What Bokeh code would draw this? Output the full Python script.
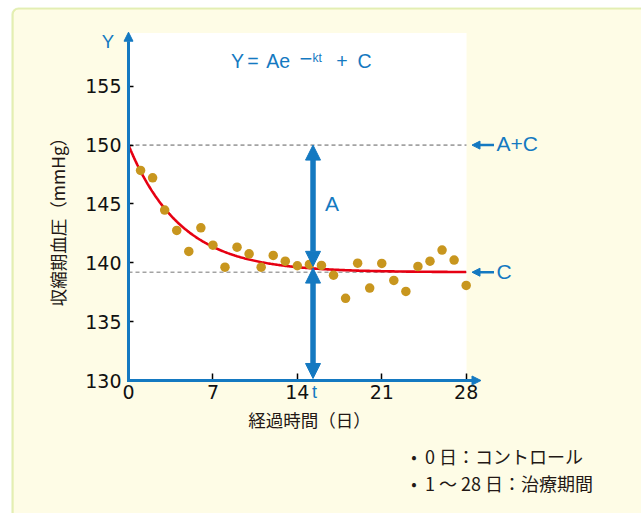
import math
import numpy as np
from bokeh.plotting import figure
from bokeh.models import Arrow, NormalHead, Label, BoxAnnotation, FixedTicker, Range1d
from bokeh.embed import file_html
from bokeh.resources import INLINE

# Systolic blood pressure per day (day 0 = control, days 1-28 = treatment)
days = list(range(1, 29))
sbp = [147.85, 147.22, 144.48, 142.75, 140.97, 142.97, 141.50, 139.63, 141.33, 140.76,
       139.63, 140.63, 140.14, 139.75, 139.86, 139.78, 138.95, 136.98, 139.97, 137.85,
       139.95, 138.50, 137.57, 139.69, 140.14, 141.08, 140.23, 138.08]

# Fitted model Y = A e^(-kt) + C
A_amp = 10.8
C_base = 139.2
k_rate = 0.23
t_mark = 15.3

x_ticks = [0, 7, 14, 21, 28]
y_ticks = [130, 135, 140, 145, 150, 155]

x_axis_label = "経過時間（日）"
y_axis_label = "収縮期血圧（mmHg）"
note_lines = ["0 日：コントロール", "1 ～ 28 日：治療期間"]

BLUE = "#1479c1"
RED = "#e60012"
DOT = "#c8961e"
PANEL = "#fefce6"
EDGE = "#a6cc22"
INK = "#231815"
CJK = "Noto Sans CJK JP"
LAT = "Liberation Sans"
NUM = "DejaVu Sans"

# canvas geometry: origin (day 0, 130 mmHg) sits at pixel (128, 380)
W, H = 641, 513
OX, OY = 128, 380
sx = 12.06   # px per day
sy = 11.77   # px per mmHg
X0, X1 = -OX / sx, (W - OX) / sx
Y0, Y1 = 130 - (H - OY) / sy, 130 + OY / sy


def dx(px):
    return (px - OX) / sx


def dy(py):
    return 130 + (OY - py) / sy


p = figure(width=W, height=H, output_backend="svg", toolbar_location=None,
           x_range=Range1d(X0, X1), y_range=Range1d(Y0, Y1),
           min_border=0, min_border_left=0, min_border_right=0,
           min_border_top=0, min_border_bottom=0)
p.background_fill_color = "white"
p.border_fill_color = "white"
p.outline_line_color = None
p.xgrid.visible = False
p.ygrid.visible = False

# panel with rounded green edge
p.add_layout(BoxAnnotation(left=dx(12), right=dx(720), top=dy(8), bottom=dy(620),
                           fill_color=PANEL, fill_alpha=1, line_color=EDGE, line_width=2.2,
                           border_radius=6, level="underlay"))
# white plotting area
p.add_layout(BoxAnnotation(left=0, right=dx(466), bottom=130, top=dy(32.5),
                           fill_color="white", fill_alpha=1, line_color=None,
                           level="underlay"))

# axes pinned to the origin; their lines are drawn as arrows below
for ax, loc in ((p.xaxis[0], 130), (p.yaxis[0], 0)):
    ax.fixed_location = loc
    ax.axis_line_color = None
    ax.major_tick_line_color = "black"
    ax.major_tick_line_width = 1.5
    ax.minor_tick_line_color = None
    ax.major_tick_out = 0
    ax.major_label_text_font = NUM
    ax.major_label_text_font_size = "19px"
    ax.major_label_text_color = "#111111"

p.xaxis.ticker = FixedTicker(ticks=x_ticks)
p.yaxis.ticker = FixedTicker(ticks=y_ticks)
p.xaxis.bounds = (0, 28)
p.yaxis.bounds = (130, 155)
p.xaxis.major_tick_in = 7
p.yaxis.major_tick_in = 5
p.xaxis.major_label_standoff = 4
p.yaxis.major_label_standoff = 7

# axis lines with arrowheads
p.add_layout(Arrow(end=NormalHead(size=9, fill_color=BLUE, line_color=BLUE),
                   x_start=0, y_start=dy(381.5), x_end=0, y_end=dy(31.7),
                   line_color=BLUE, line_width=3))
p.add_layout(Arrow(end=NormalHead(size=9, fill_color=BLUE, line_color=BLUE),
                   x_start=dx(126.5), y_start=130, x_end=dx(480.5), y_end=130,
                   line_color=BLUE, line_width=3))

# reference levels A+C and C
p.segment(x0=[0, 0], y0=[A_amp + C_base, C_base], x1=[dx(466), dx(466)],
          y1=[A_amp + C_base, C_base], line_color="#a3a3a3", line_width=1.6,
          line_dash="4 3")

# fitted curve
t = np.linspace(0, 28, 300)
p.line(t, A_amp * np.exp(-k_rate * t) + C_base, line_color=RED, line_width=2.6)

# observations
p.scatter(days, sbp, size=9.5, fill_color=DOT, line_color=None)

# amplitude arrow and time arrow
p.add_layout(Arrow(start=NormalHead(size=15, fill_color=BLUE, line_color=BLUE),
                   end=NormalHead(size=15, fill_color=BLUE, line_color=BLUE),
                   x_start=t_mark, y_start=C_base + 0.5, x_end=t_mark, y_end=A_amp + C_base,
                   line_color=BLUE, line_width=5.5))
p.add_layout(Arrow(start=NormalHead(size=15, fill_color=BLUE, line_color=BLUE),
                   end=NormalHead(size=15, fill_color=BLUE, line_color=BLUE),
                   x_start=t_mark, y_start=C_base + 0.35, x_end=t_mark, y_end=130.17,
                   line_color=BLUE, line_width=5.5))


def lab(x, y, text, size, color=BLUE, font=LAT, align="left", angle=0):
    p.add_layout(Label(x=x, y=y, text=text, text_font=font, text_font_size=size,
                       text_color=color, text_align=align, text_baseline="middle",
                       angle=angle))


# side pointers for A+C and C
for lvl, txt in ((A_amp + C_base, "A+C"), (C_base, "C")):
    p.add_layout(Arrow(end=NormalHead(size=8, fill_color=BLUE, line_color=BLUE),
                       x_start=dx(493.5), y_start=lvl, x_end=dx(471.5), y_end=lvl,
                       line_color=BLUE, line_width=2.5))
    lab(dx(496), lvl + 1.2 / sy, txt, "21px")

# formula Y = Ae^(-kt) + C
FY = dy(60)
lab(dx(230.5), FY, "Y", "19.5px")
lab(dx(252.5), FY, "=", "19.5px", align="center")
lab(dx(289.5), FY, "Ae", "19.5px", align="right")
lab(dx(305.5), dy(58), "−", "22px", align="center")
lab(dx(312), dy(57), "kt", "12px")
lab(dx(341.5), FY, "+", "19.5px", align="center")
lab(dx(357), FY, "C", "19.5px")

# axis names and markers
lab(dx(107.5), dy(40.5), "Y", "18.5px", align="center")
lab(t_mark + 1.5 / sx, dy(391.5), "t", "18px", align="center")
lab(t_mark + 19 / sx, dy(202.5), "A", "21px", align="center")
lab(dx(57), dy(217), y_axis_label, "17.5px", color=INK, font=CJK,
    align="center", angle=math.pi / 2)
lab(dx(309), dy(419), x_axis_label, "17.5px", color=INK, font=CJK, align="center")

# notes
for py, txt in zip((455.5, 482.5), note_lines):
    lab(dx(413.5), dy(py), "•", "16px", color=INK, font=CJK, align="center")
    lab(dx(424.5), dy(py), txt, "18px", color=INK, font=CJK)

open("out.html", "w").write(file_html(p, INLINE))
